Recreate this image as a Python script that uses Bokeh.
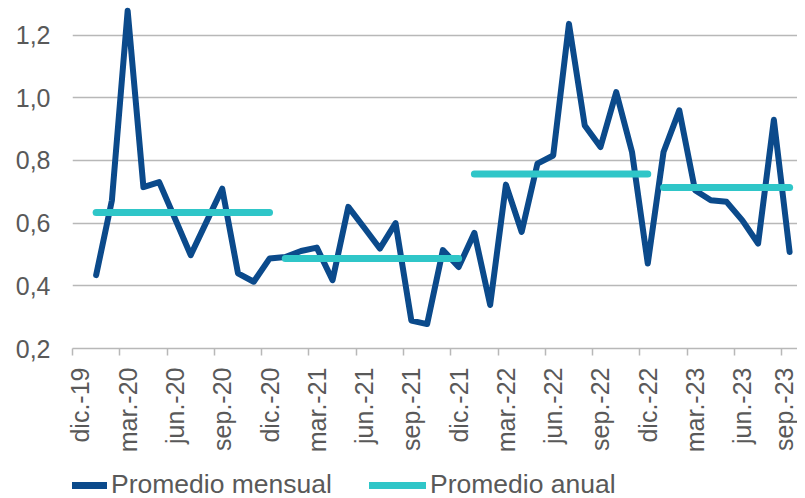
import math
import numpy as np
from bokeh.plotting import figure
from bokeh.layouts import column
from bokeh.models import (FixedTicker, CustomJSTickFormatter, Legend, LegendItem,
                          ColumnDataSource, Range1d)
from bokeh.embed import file_html
from bokeh.resources import INLINE

# ---- data -------------------------------------------------------------
tick_labels = ["dic.-19", "mar.-20", "jun.-20", "sep.-20", "dic.-20", "mar.-21",
               "jun.-21", "sep.-21", "dic.-21", "mar.-22", "jun.-22", "sep.-22",
               "dic.-22", "mar.-23", "jun.-23", "sep.-23"]

# monthly values, ene-20 .. sep-23
monthly_2020 = [0.434, 0.673, 1.278, 0.715, 0.731, 0.615, 0.498, 0.604, 0.710, 0.440, 0.413, 0.487]
monthly_2021 = [0.492, 0.511, 0.522, 0.418, 0.652, 0.586, 0.519, 0.600, 0.289, 0.278, 0.514, 0.460]
monthly_2022 = [0.569, 0.339, 0.723, 0.572, 0.790, 0.816, 1.236, 0.912, 0.843, 1.018, 0.827, 0.471]
monthly_2023 = [0.827, 0.960, 0.705, 0.673, 0.668, 0.609, 0.535, 0.930, 0.508]
monthly_values = monthly_2020 + monthly_2021 + monthly_2022 + monthly_2023

years = [2020, 2021, 2022, 2023]
annual_values = [0.634, 0.487, 0.757, 0.714]

y_ticks = [0.2, 0.4, 0.6, 0.8, 1.0, 1.2]
series_names = ["Promedio mensual", "Promedio anual"]

# ---- positions (category index 0 = dic-19) -----------------------------
n_cat = 1 + len(monthly_values)          # dic-19 .. sep-23
x_month = np.arange(1, n_cat) + 0.5      # category centres
start_idx = [1 + 12 * (y - 2020) for y in years]
end_idx = [min(s + 11, n_cat - 1) for s in start_idx]

src_m = ColumnDataSource(dict(x=x_month, y=monthly_values))
src_a = ColumnDataSource(dict(x0=[s + 0.5 for s in start_idx],
                              x1=[e + 0.5 for e in end_idx],
                              y=annual_values))

NAVY = "#0b4a8b"
TEAL = "#2fc6c8"
GRID = "#b8b8b8"
TXT = "#595959"
FONT = "Liberation Sans"

p = figure(frame_width=725, frame_height=348, output_backend="svg", toolbar_location=None,
           x_range=Range1d(0, n_cat), y_range=Range1d(0.2, 1.3106),
           min_border_left=72, min_border_right=0, min_border_top=0,
           min_border_bottom=0)
p.outline_line_color = None
p.background_fill_color = "white"
p.border_fill_color = "white"

r_m = p.line("x", "y", source=src_m, line_color=NAVY, line_width=6,
             line_join="round", line_cap="round")
r_a = p.segment(x0="x0", y0="y", x1="x1", y1="y", source=src_a,
                line_color=TEAL, line_width=7, line_cap="round")

# x axis: labels at category centres, tick marks at category boundaries
xa = p.xaxis[0]
xa.ticker = FixedTicker(ticks=[i + 0.5 for i in range(0, n_cat, 3)],
                        minor_ticks=list(range(0, n_cat, 3)))
xa.major_label_overrides = {i + 0.5: lab for i, lab in zip(range(0, n_cat, 3), tick_labels)}
xa.major_tick_out = 0
xa.major_tick_in = 0
xa.minor_tick_out = 7
xa.minor_tick_in = 0
xa.minor_tick_line_color = GRID
xa.minor_tick_line_width = 1.5
xa.axis_line_color = GRID
xa.axis_line_width = 1.5
xa.major_label_orientation = math.pi / 2
xa.major_label_standoff = 12
xa.major_label_text_font = FONT
xa.major_label_text_font_size = "25px"
xa.major_label_text_color = TXT

ya = p.yaxis[0]
ya.ticker = FixedTicker(ticks=y_ticks)
ya.formatter = CustomJSTickFormatter(code="return tick.toFixed(1).replace('.', ',');")
ya.axis_line_color = None
ya.major_tick_out = 0
ya.major_tick_in = 0
ya.minor_tick_out = 0
ya.minor_tick_in = 0
ya.major_label_standoff = 22
ya.major_label_text_font = FONT
ya.major_label_text_font_size = "25px"
ya.major_label_text_color = TXT

p.xgrid.visible = False
p.ygrid.ticker = FixedTicker(ticks=y_ticks[1:])
p.ygrid.grid_line_color = GRID
p.ygrid.grid_line_width = 1.5

# ---- legend strip (separate small figure below the chart) --------------
# the series are re-drawn here outside the visible range so that the
# legend has real renderers to sample its glyphs from
leg = figure(width=797, height=45, output_backend="svg", toolbar_location=None,
             x_range=Range1d(-200, -199), y_range=Range1d(0, 1),
             x_axis_location=None, y_axis_location=None,
             min_border_left=0, min_border_right=0, min_border_top=0,
             min_border_bottom=0)
leg.outline_line_color = None
leg.grid.visible = False
leg.background_fill_color = "white"
leg.border_fill_color = "white"
lm = leg.line("x", "y", source=src_m, line_color=NAVY, line_width=7, line_cap="round")
la = leg.segment(x0="x0", y0="y", x1="x1", y1="y", source=src_a,
                 line_color=TEAL, line_width=7, line_cap="round")

legend = Legend(items=[LegendItem(label=series_names[0], renderers=[lm]),
                       LegendItem(label=series_names[1], renderers=[la])],
                orientation="horizontal", location=(-22, 0),
                glyph_width=57, glyph_height=20, label_standoff=4, spacing=37,
                padding=0, margin=0, border_line_color=None,
                background_fill_alpha=0,
                label_text_font=FONT, label_text_font_size="26.5px",
                label_text_color=TXT)
leg.add_layout(legend, "center")

open("out.html", "w").write(file_html(column(p, leg, spacing=0), INLINE))
